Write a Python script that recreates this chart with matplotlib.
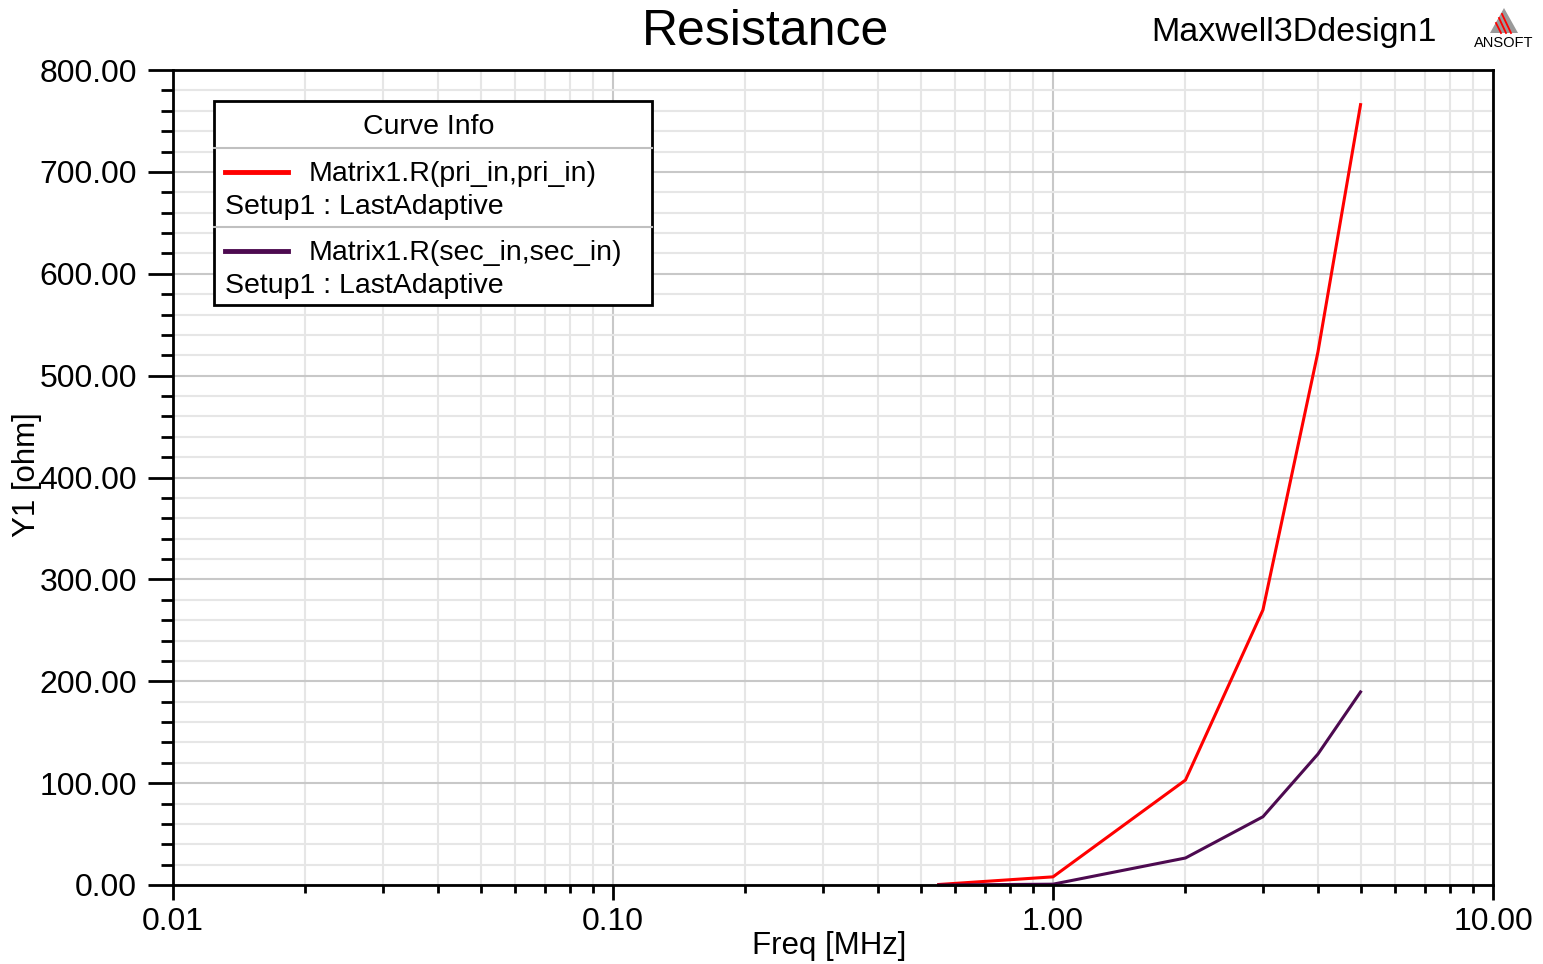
import matplotlib.pyplot as plt
from matplotlib.patches import Rectangle, Polygon
from matplotlib.lines import Line2D
from matplotlib.ticker import FixedLocator, MultipleLocator, FuncFormatter

plt.rcParams['font.family'] = ['Liberation Sans', 'DejaVu Sans']

# data
freq = [0.55, 1.0, 2.0, 3.0, 4.0, 5.0]
r_pri = [0.5, 8.0, 103.0, 270.0, 523.0, 766.0]
r_sec = [0.0, 0.8, 26.5, 67.0, 128.5, 189.5]
series_names = ["Matrix1.R(pri_in,pri_in)", "Matrix1.R(sec_in,sec_in)"]
series_colors = ["#ff0000", "#4d0a50"]
solution_name = "Setup1 : LastAdaptive"
x_ticks = [0.01, 0.1, 1.0, 10.0]
x_ticklabels = ["0.01", "0.10", "1.00", "10.00"]

W, H = 1543, 964
fig = plt.figure(figsize=(W / 100, H / 100), dpi=100)
ax = fig.add_axes([173 / W, 1 - 885 / H, (1493 - 173) / W, (885 - 70) / H])


def px(x, y):
    return (x / W, 1 - y / H)


ax.plot(freq, r_pri, color=series_colors[0], lw=2.2, zorder=2, clip_on=False)
ax.plot(freq, r_sec, color=series_colors[1], lw=2.2, zorder=2, clip_on=False)

ax.set_xscale('log')
ax.set_xlim(0.01, 10)
ax.set_ylim(0, 800)

ax.xaxis.set_major_locator(FixedLocator(x_ticks))
ax.set_xticklabels(x_ticklabels)
minors = [m * d for d in [0.01, 0.1, 1.0] for m in range(2, 10)]
ax.xaxis.set_minor_locator(FixedLocator(minors))
ax.xaxis.set_minor_formatter(FuncFormatter(lambda v, p: ""))
ax.yaxis.set_major_locator(MultipleLocator(100))
ax.yaxis.set_minor_locator(MultipleLocator(20))
ax.yaxis.set_major_formatter(FuncFormatter(lambda v, p: "%.2f" % v))

ax.grid(which='minor', color='#e6e6e6', lw=1.5, zorder=0)
ax.grid(which='major', color='#c8c8c8', lw=1.5, zorder=0)
ax.set_axisbelow(True)

for s in ax.spines.values():
    s.set_linewidth(2)
    s.set_color('black')

ax.tick_params(axis='y', which='major', length=18, width=2, labelsize=23, pad=8)
ax.tick_params(axis='y', which='minor', length=9, width=2)
ax.tick_params(axis='x', which='major', length=11, width=2, labelsize=23, pad=5)
ax.tick_params(axis='x', which='minor', length=6, width=2)

fig.text(*px(829, 946), "Freq [MHz]", fontsize=22.5, ha='center', va='center')
fig.text(*px(27, 475), "Y1 [ohm]", fontsize=22.5, rotation=90, ha='center', va='center')

fig.text(*px(765, 32), "Resistance", fontsize=36, ha='center', va='center')
fig.text(*px(1294, 32), "Maxwell3Ddesign1", fontsize=24.5, ha='center', va='center')

# ANSOFT logo
fig.add_artist(Polygon([px(1504, 8), px(1490, 33), px(1518, 33)], closed=True,
                       transform=fig.transFigure, facecolor='#9a9a9a', edgecolor='none'))
stripes = [((1496, 23), (1501, 33)), ((1499, 18), (1506, 33)), ((1502, 14), (1511, 33))]
for a, b in stripes:
    fig.add_artist(Line2D([px(*a)[0], px(*b)[0]], [px(*a)[1], px(*b)[1]],
                          transform=fig.transFigure, color='#ff0000', lw=1.3))
fig.text(*px(1504, 43), "ANSOFT", fontsize=10.5, ha='center', va='center')

# legend box
x0, y0, x1, y1 = 214, 101, 652, 305
fig.add_artist(Rectangle(px(x0, y1), (x1 - x0) / W, (y1 - y0) / H,
                         transform=fig.transFigure, facecolor='white',
                         edgecolor='black', lw=2, zorder=5))
for yy in [148, 227]:
    fig.add_artist(Line2D([x0 / W, x1 / W], [1 - yy / H] * 2, transform=fig.transFigure,
                          color='#c0c0c0', lw=1.5, zorder=6))
fig.text(*px(429, 127), "Curve Info", fontsize=20.5, ha='center', va='center', zorder=7)
for i, (name, col) in enumerate(zip(series_names, series_colors)):
    yl = 172 + i * 79
    fig.add_artist(Line2D([225 / W, 288 / W], [1 - yl / H] * 2, transform=fig.transFigure,
                          color=col, lw=3.5, zorder=7))
    fig.text(*px(309, yl + 2), name, fontsize=20.5, ha='left', va='center', zorder=7)
    fig.text(*px(225, yl + 35), solution_name, fontsize=20.5, ha='left', va='center', zorder=7)

fig.savefig("out.png", dpi=100)
